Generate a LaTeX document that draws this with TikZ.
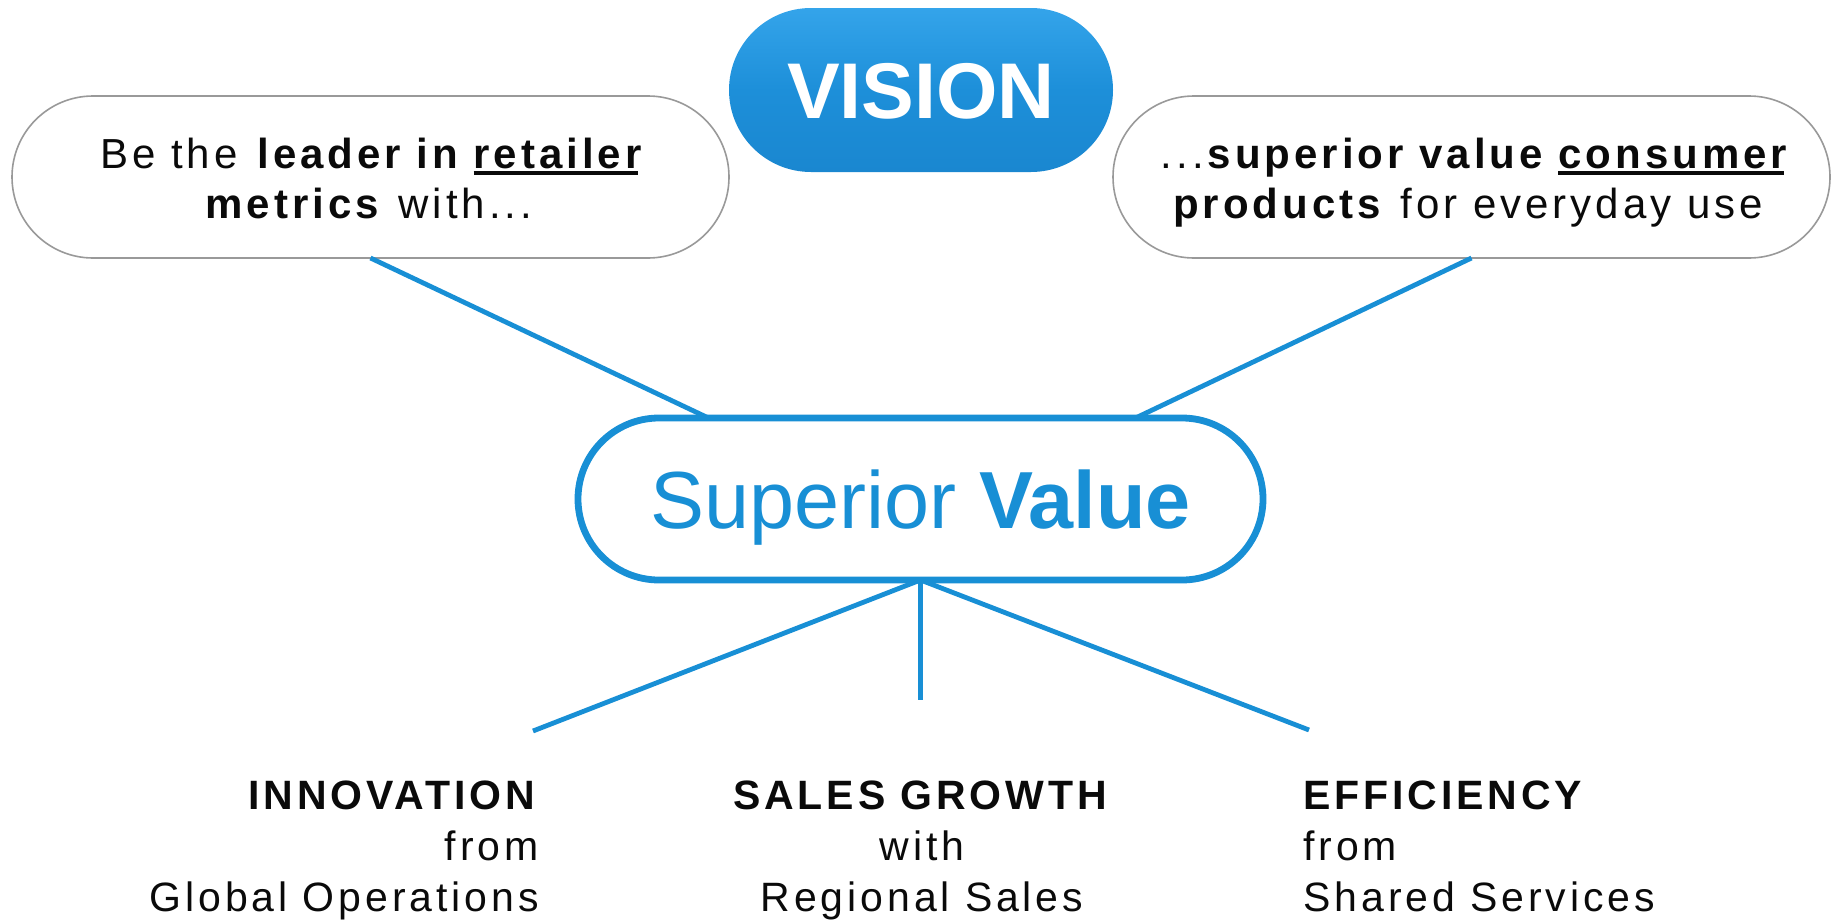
\documentclass[tikz,border=0pt]{standalone}
\usepackage{fontspec}
\setmainfont{Liberation Sans}
\newfontfamily\trk[LetterSpace=9.5]{Liberation Sans}
\usetikzlibrary{calc}
\definecolor{vblue}{HTML}{188FD5}
\definecolor{txt}{HTML}{0A0A0A}
\definecolor{visTop}{HTML}{34A4EA}
\definecolor{visMid}{HTML}{1D8FD9}
\definecolor{visBot}{HTML}{1A87D0}
\newcommand\myul[1]{\setbox0\hbox{#1}\rlap{\rule[-3.4pt]{\dimexpr\wd0-1.8pt\relax}{2pt}}\box0}
\begin{document}
\begin{tikzpicture}[x=0.5pt,y=-0.5pt,
  tbox/.style={draw=gray!80, line width=0.8pt, fill=white, rounded corners=40.5pt,
    minimum width=358.5pt, minimum height=81pt, inner sep=0pt, outer sep=0pt},
  svbox/.style={draw=vblue, line width=3.4pt, fill=white, rounded corners=40.5pt,
    minimum width=342.5pt, minimum height=81pt, inner sep=0pt, outer sep=0pt,
    text=vblue, font=\fontsize{40.5}{43}\selectfont, text height=29pt, text depth=0pt},
  visbox/.style={rounded corners=41pt, minimum width=192pt, minimum height=82pt,
    inner sep=0pt, outer sep=0pt, top color=visTop, bottom color=visBot, middle color=visMid,
    text=white, font=\bfseries\fontsize{39.5}{42}\selectfont, text height=28.3pt, text depth=0pt},
  conn/.style={draw=vblue, line width=2.4pt},
  ttext/.style={font=\trk\fontsize{21}{25}\selectfont, text=txt, inner sep=0pt, anchor=base},
  btext/.style={font=\trk\fontsize{20.5}{25}\selectfont, text=txt, inner sep=0pt}
]
\useasboundingbox (0,0) rectangle (1837,921);

% top boxes
\node[tbox] (lbox) at (370.5,177) {};
\node[tbox] (rbox) at (1471.5,177) {};
\node[ttext] (l1) at (371,168) {Be the \textbf{leader in \myul{retailer}}};
\node[ttext] (l2) at (369,218) {\textbf{metrics} with...};
\node[ttext] (r1) at (1474,168) {...\textbf{superior value \myul{consumer}}};
\node[ttext] (r2) at (1468,218) {\textbf{products} for everyday use};

% vision
\node[visbox] (vision) at (921,90) {VISION};

% superior value
\node[svbox] (sv) at (920.5,499) {Superior \textbf{Value}};

% connectors from top
\draw[conn] (lbox.south) -- ($(sv.north)+(-212,0)$);
\draw[conn] (rbox.south) -- ($(sv.north)+(215,0)$);

% connectors to bottom
\coordinate (el) at (533,731);
\coordinate (ec) at (920.5,700);
\coordinate (er) at (1309,730);
\draw[conn] (sv.south) -- (el);
\draw[conn] (sv.south) -- (ec);
\draw[conn] (sv.south) -- (er);

% bottom texts
\node[btext, anchor=base east] (in1) at (539,809) {\textbf{INNOVATION}};
\node[btext, anchor=base east] (in2) at (539,860) {from};
\node[btext, anchor=base east] (in3) at (539,911) {Global Operations};
\node[btext, anchor=base] (sg1) at (922,809) {\textbf{SALES GROWTH}};
\node[btext, anchor=base] (sg2) at (922,860) {with};
\node[btext, anchor=base] (sg3) at (922,911) {Regional Sales};
\node[btext, anchor=base west] (ef1) at (1303,809) {\textbf{EFFICIENCY}};
\node[btext, anchor=base west] (ef2) at (1303,860) {from};
\node[btext, anchor=base west] (ef3) at (1303,911) {Shared Services};
\end{tikzpicture}
\end{document}
